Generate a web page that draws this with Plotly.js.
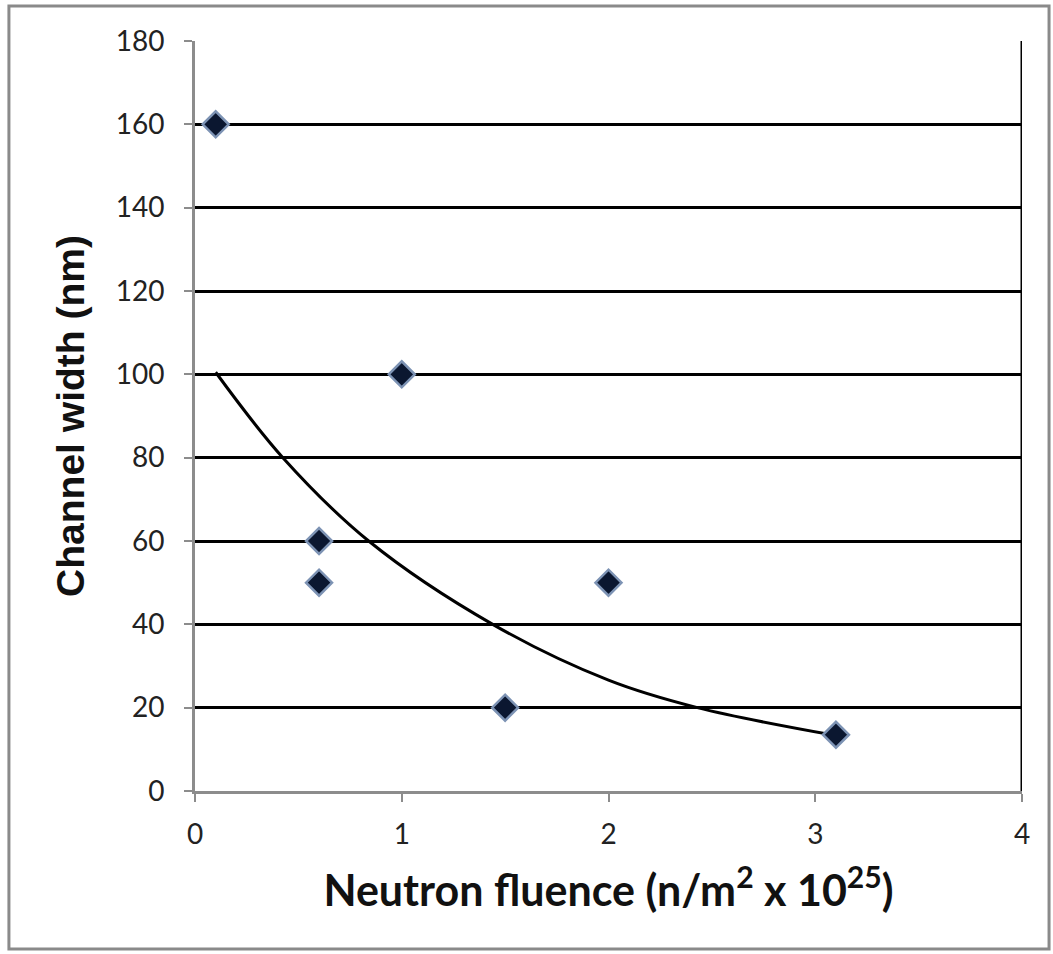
<!DOCTYPE html>
<html>
<head>
<meta charset="utf-8">
<script src="https://cdn.plot.ly/plotly-3.0.1.min.js"></script>
<style>html,body{margin:0;padding:0;background:#fff;}#chart{width:1053px;height:954px;}</style>
</head>
<body>
<div id="chart"></div>
<script>
// Measured data points
const fluence = [0.1, 0.6, 0.6, 1.0, 1.5, 2.0, 3.1];
const channelWidth = [160, 60, 50, 100, 20, 50, 13.5];

// Trendline (exponential) points
const trendX = [0.1, 0.425, 0.84, 1.44, 2.0, 2.43, 3.1];
const trendY = [100.5, 80, 60, 40, 26.6, 20, 13.3];

const yTicks = [0, 20, 40, 60, 80, 100, 120, 140, 160, 180];
const xTicks = [0, 1, 2, 3, 4];

const traces = [
  {
    x: trendX, y: trendY, type: 'scatter', mode: 'lines',
    line: {color: '#000000', width: 3, shape: 'spline'},
    hoverinfo: 'skip', showlegend: false
  },
  {
    x: fluence, y: channelWidth, type: 'scatter', mode: 'markers',
    marker: {symbol: 'diamond', size: 20, color: '#0b1730',
             line: {color: '#7d93b4', width: 2.5}},
    showlegend: false
  }
];

const layout = {
  width: 1053, height: 954,
  margin: {l: 195, r: 31, t: 41, b: 163},
  paper_bgcolor: '#ffffff', plot_bgcolor: '#ffffff',
  showlegend: false,
  xaxis: {
    range: [0, 4], tickvals: xTicks, ticktext: xTicks.map(String),
    showgrid: false, zeroline: false,
    showline: true, linecolor: '#8c8c8c', linewidth: 3,
    ticks: 'outside', ticklen: 8, tickwidth: 2, tickcolor: '#8c8c8c',
    ticklabelstandoff: 8,
    tickfont: {family: 'Lato, "Open Sans", sans-serif', size: 28, color: '#222'},
    title: {text: '<b>Neutron fluence (n/m<sup>2</sup> x 10<sup>25</sup>)</b>',
            font: {family: 'Lato, "Open Sans", sans-serif', size: 43, color: '#111'},
            standoff: 28}
  },
  yaxis: {
    range: [0, 180], tickvals: yTicks, ticktext: yTicks.map(String),
    showgrid: true, gridcolor: '#000000', gridwidth: 3,
    zeroline: false,
    showline: true, linecolor: '#8c8c8c', linewidth: 3,
    ticks: 'outside', ticklen: 8, tickwidth: 2, tickcolor: '#8c8c8c',
    ticklabelstandoff: 14,
    tickfont: {family: 'Lato, "Open Sans", sans-serif', size: 28, color: '#222'},
    title: {text: '<b>Channel width (nm)</b>',
            font: {family: '"Liberation Sans", Arial, sans-serif', size: 39, color: '#111'},
            standoff: 20}
  },
  shapes: [
    {type: 'line', xref: 'x', yref: 'paper', x0: 4, x1: 4, y0: 0, y1: 1,
     line: {color: '#000000', width: 3}},
    {type: 'rect', xref: 'paper', yref: 'paper', x0: -0.225, x1: 1.0327, y0: -0.2107, y1: 1.0467,
     line: {color: '#8a8a8a', width: 3}, fillcolor: 'rgba(0,0,0,0)', layer: 'below'}
  ]
};

Plotly.newPlot('chart', traces, layout, {displayModeBar: false, staticPlot: true});
</script>
</body>
</html>
